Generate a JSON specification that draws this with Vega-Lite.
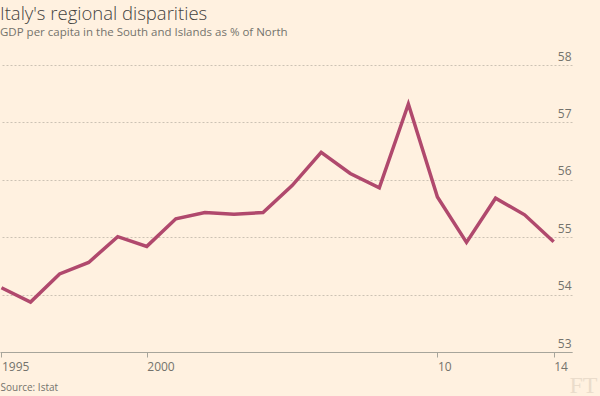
{
  "$schema": "https://vega.github.io/schema/vega-lite/v6.json",
  "width": 572,
  "height": 287,
  "autosize": {"type": "none"},
  "padding": {"left": 0, "top": 65, "right": 28, "bottom": 44},
  "background": "#fff1e0",
  "title": {
    "text": "Italy's regional disparities",
    "subtitle": "GDP per capita in the South and Islands as % of North",
    "anchor": "start",
    "frame": "group",
    "offset": 12,
    "font": "Open Sans",
    "fontSize": 18.5,
    "fontWeight": 300,
    "color": "#43423e",
    "subtitleFont": "Open Sans",
    "subtitleFontSize": 11.5,
    "subtitleColor": "#74736c",
    "subtitlePadding": 3
  },
  "data": {
    "values": [
      {"year": 1995, "value": 54.12},
      {"year": 1996, "value": 53.87},
      {"year": 1997, "value": 54.36},
      {"year": 1998, "value": 54.56},
      {"year": 1999, "value": 55.01},
      {"year": 2000, "value": 54.84},
      {"year": 2001, "value": 55.32},
      {"year": 2002, "value": 55.43},
      {"year": 2003, "value": 55.40},
      {"year": 2004, "value": 55.43},
      {"year": 2005, "value": 55.90},
      {"year": 2006, "value": 56.48},
      {"year": 2007, "value": 56.11},
      {"year": 2008, "value": 55.86},
      {"year": 2009, "value": 57.32},
      {"year": 2010, "value": 55.70},
      {"year": 2011, "value": 54.91},
      {"year": 2012, "value": 55.68},
      {"year": 2013, "value": 55.39},
      {"year": 2014, "value": 54.92}
    ]
  },
  "mark": {"type": "line", "color": "#b0496d", "strokeWidth": 3.5, "strokeJoin": "miter", "clip": false},
  "encoding": {
    "x": {
      "field": "year",
      "type": "quantitative",
      "scale": {"domain": [1994.95, 2014.63], "nice": false, "zero": false},
      "axis": {
        "values": [1995, 2000, 2010, 2014],
        "labelExpr": "datum.value <= 2000 ? '' + datum.value : slice('' + datum.value, 2)",
        "labelAlign": "left",
        "labelFont": "Open Sans",
        "labelFontSize": 12,
        "labelColor": "#74736c",
        "labelPadding": 4,
        "domainColor": "#a7a59b",
        "tickColor": "#a7a59b",
        "tickSize": 5,
        "grid": false,
        "title": "Source: Istat",
        "titleAnchor": "start",
        "titleAlign": "left",
        "titleBaseline": "alphabetic",
        "titleX": 0,
        "titleY": 38,
        "titleFont": "Open Sans",
        "titleFontSize": 10,
        "titleFontWeight": "normal",
        "titleColor": "#74736c"
      }
    },
    "y": {
      "field": "value",
      "type": "quantitative",
      "scale": {"domain": [53, 58], "nice": false, "zero": false},
      "axis": {
        "orient": "right",
        "values": [53, 54, 55, 56, 57, 58],
        "domain": false,
        "ticks": false,
        "grid": true,
        "gridColor": "#ccc2b4",
        "gridDash": [2, 2],
        "gridWidth": 1,
        "labelAlign": "right",
        "labelBaseline": "alphabetic",
        "labelOffset": -5,
        "labelPadding": -1,
        "labelFont": "Open Sans",
        "labelFontSize": 12,
        "labelColor": "#74736c",
        "title": "FT",
        "titleAngle": 0,
        "titleAlign": "left",
        "titleBaseline": "alphabetic",
        "titleX": -3,
        "titleY": 327,
        "titleFont": "Liberation Serif",
        "titleFontSize": 24,
        "titleFontWeight": "normal",
        "titleColor": "#eadccb"
      }
    }
  },
  "config": {"view": {"stroke": null}}
}
